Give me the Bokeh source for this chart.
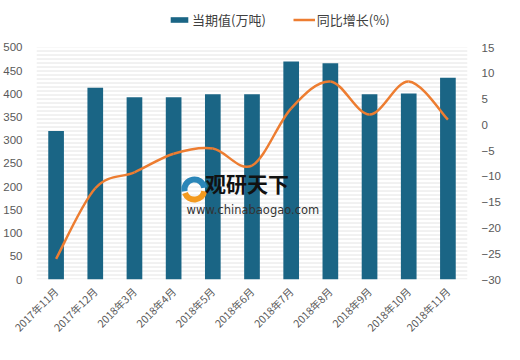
import numpy as np
from bokeh.plotting import figure
from bokeh.models import (Range1d, LinearAxis, FactorRange, FixedTicker, BoxAnnotation,
                          Legend, LegendItem, Label, ColumnDataSource)
from bokeh.embed import file_html
from bokeh.resources import INLINE

# ---- data ----
months = ["2017年11月", "2017年12月", "2018年3月", "2018年4月", "2018年5月", "2018年6月",
          "2018年7月", "2018年8月", "2018年9月", "2018年10月", "2018年11月"]
volume = [320, 413, 393, 393, 399, 399, 470, 466, 399, 401, 435]          # 当期值(万吨)
growth = [-26.0, -12.3, -9.2, -5.6, -4.6, -7.9, 3.2, 8.4, 2.0, 8.4, 1.0]  # 同比增长(%)
left_ticks = [0, 50, 100, 150, 200, 250, 300, 350, 400, 450, 500]
right_ticks = [-30, -25, -20, -15, -10, -5, 0, 5, 10, 15]

BAR = "#1A6585"
ORANGE = "#ED7D31"
TXT = "#595959"
NUMFONT = "Liberation Sans"
CJK = "Noto Sans CJK SC"

# frame reaches up to the legend row; the value axes stop at 500 / 15
LEFT_TOP = 590.5   # screen headroom above 500 for the legend row
RIGHT_TOP = 23.15  # same headroom on the % scale

p = figure(width=504, height=344, x_range=FactorRange(*months, range_padding=0),
           y_range=Range1d(0, LEFT_TOP), output_backend="svg", toolbar_location=None,
           min_border_left=28, min_border_right=28, min_border_top=5, min_border_bottom=65)
p.extra_y_ranges = {"pct": Range1d(-30, RIGHT_TOP)}
p.outline_line_color = None
p.background_fill_color = "white"
p.border_fill_color = "white"
p.grid.visible = False

# striped plot area (0..500)
p.add_layout(BoxAnnotation(bottom=0, top=500, fill_color="white", fill_alpha=1, line_color=None,
                           hatch_pattern="horizontal_line", hatch_color="#e4e4e4",
                           hatch_scale=4, hatch_weight=1, level="underlay"))

src = ColumnDataSource(dict(m=months, v=volume))
bars = p.vbar(x="m", top="v", width=0.4, source=src, fill_color=BAR, line_color=None)

# smooth line (Catmull-Rom bezier through the data points)
xs = np.arange(len(months)) + 0.5
ys = np.array(growth, dtype=float)
n = len(xs)
x0, y0, x1, y1, cx0, cy0, cx1, cy1 = [], [], [], [], [], [], [], []
for i in range(n - 1):
    im1 = max(i - 1, 0)
    ip2 = min(i + 2, n - 1)
    x0.append(xs[i]); y0.append(ys[i]); x1.append(xs[i + 1]); y1.append(ys[i + 1])
    cx0.append(xs[i] + (xs[i + 1] - xs[im1]) / 6.0)
    cy0.append(ys[i] + (ys[i + 1] - ys[im1]) / 6.0)
    cx1.append(xs[i + 1] - (xs[ip2] - xs[i]) / 6.0)
    cy1.append(ys[i + 1] - (ys[ip2] - ys[i]) / 6.0)
curve = p.bezier(x0=x0, y0=y0, x1=x1, y1=y1, cx0=cx0, cy0=cy0, cx1=cx1, cy1=cy1,
                 line_color=ORANGE, line_width=2.5, y_range_name="pct")

# axes
ax = p.xaxis[0]
ax.major_label_orientation = np.pi / 4
ax.major_label_text_font = CJK
ax.major_label_text_font_size = "10.5px"
ax.major_label_text_color = TXT
ax.axis_line_color = None
ax.major_tick_line_color = None
ax.minor_tick_line_color = None
ax.major_label_standoff = 4

ly = p.yaxis[0]
ly.ticker = FixedTicker(ticks=left_ticks)
ry = LinearAxis(y_range_name="pct", ticker=FixedTicker(ticks=right_ticks))
ry.major_label_overrides = {t: ("\u2212" + str(-t) if t < 0 else str(t)) for t in right_ticks}
p.add_layout(ry, "right")
for a in (ly, ry):
    a.axis_line_color = None
    a.major_tick_line_color = None
    a.minor_tick_line_color = None
    a.major_label_text_font = NUMFONT
    a.major_label_text_font_size = "11.5px"
    a.major_label_text_color = TXT
    a.major_label_standoff = 8

# watermark (logo + text)
p.annular_wedge(x=[4.03], y=[194], inner_radius=7, outer_radius=13, inner_radius_units="screen",
                outer_radius_units="screen", start_angle=np.radians(10), end_angle=np.radians(190),
                fill_color="#2A86B8", line_color=None)
p.annular_wedge(x=[4.03], y=[194], inner_radius=7, outer_radius=13, inner_radius_units="screen",
                outer_radius_units="screen", start_angle=np.radians(200), end_angle=np.radians(350),
                fill_color="#F39A1E", line_color=None)
p.add_layout(Label(x=4.3, y=207, text="观研天下", text_font=CJK, text_font_style="bold",
                   text_font_size="21px", text_color="#111111", text_baseline="middle"))
p.add_layout(Label(x=3.83, y=149, text="www.chinabaogao.com", text_font="DejaVu Sans",
                   text_font_size="11.5px", text_color="#333333", text_baseline="middle"))

legend = Legend(items=[LegendItem(label="当期值(万吨)", renderers=[bars]),
                       LegendItem(label="同比增长(%)", renderers=[curve])],
                orientation="horizontal", location=(132, 250), border_line_color=None,
                background_fill_alpha=0, label_text_font=CJK, label_text_font_size="13px",
                label_text_color="#404040", glyph_width=22, glyph_height=7,
                spacing=27, padding=2, margin=0, label_standoff=2)
p.add_layout(legend)

open("out.html", "w").write(file_html(p, INLINE))
